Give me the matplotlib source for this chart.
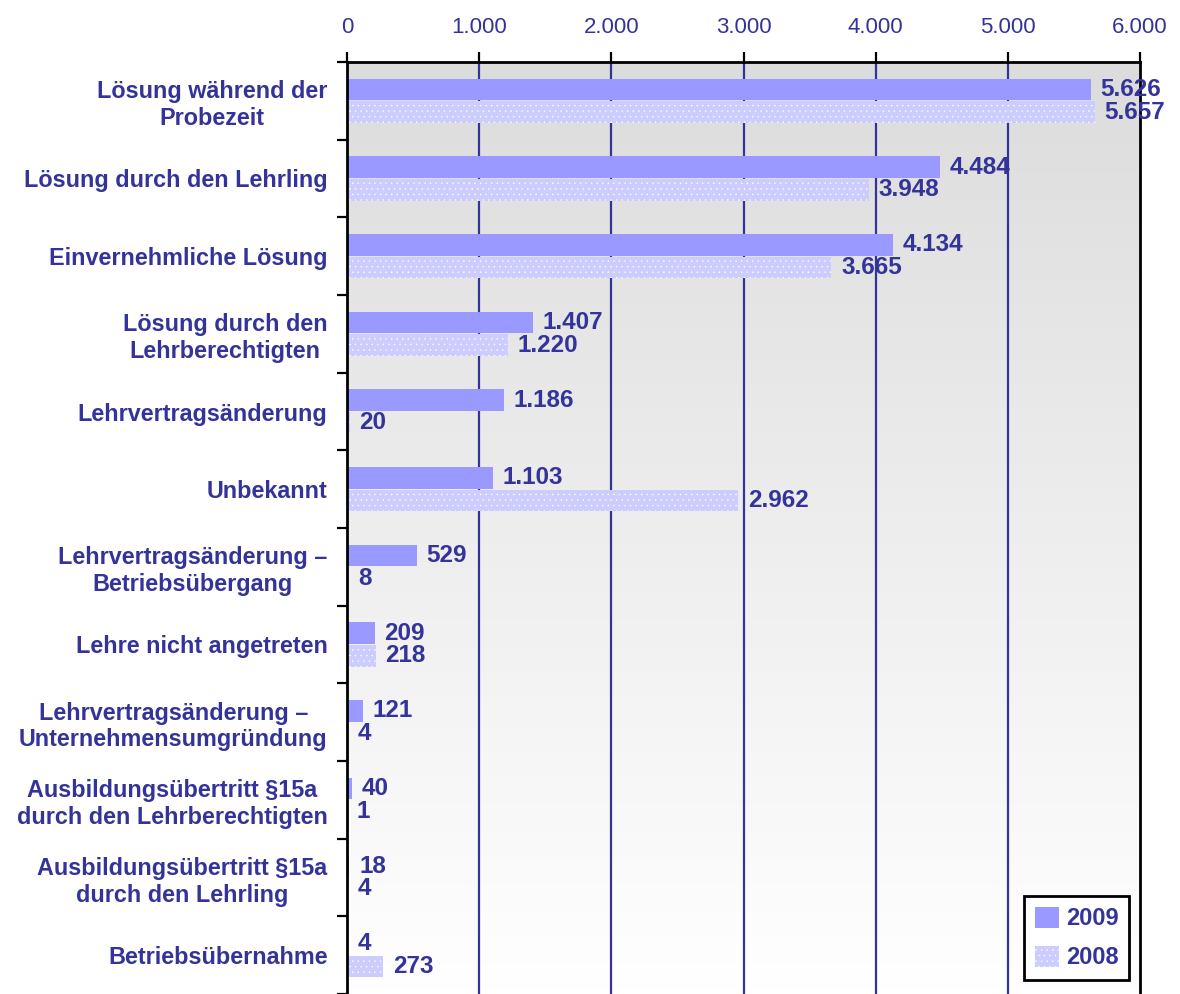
import numpy as np
import matplotlib
matplotlib.use("Agg")
import matplotlib.pyplot as plt
from matplotlib.patches import Patch

categories = [
    "Lösung während der\nProbezeit",
    "Lösung durch den Lehrling",
    "Einvernehmliche Lösung",
    "Lösung durch den\nLehrberechtigten",
    "Lehrvertragsänderung",
    "Unbekannt",
    "Lehrvertragsänderung –\nBetriebsübergang",
    "Lehre nicht angetreten",
    "Lehrvertragsänderung –\nUnternehmensumgründung",
    "Ausbildungsübertritt §15a\ndurch den Lehrberechtigten",
    "Ausbildungsübertritt §15a\ndurch den Lehrling",
    "Betriebsübernahme",
]
values_2009 = [5626, 4484, 4134, 1407, 1186, 1103, 529, 209, 121, 40, 18, 4]
values_2008 = [5657, 3948, 3665, 1220, 20, 2962, 8, 218, 4, 1, 4, 273]
series_names = ["2009", "2008"]
x_ticks = [0, 1000, 2000, 3000, 4000, 5000, 6000]

TXT = "#333399"
C09 = "#9999FF"
C08 = "#CCCCFF"
FONT = "Liberation Sans"

def de_fmt(v):
    return f"{v:,}".replace(",", ".")

plt.rcParams["hatch.linewidth"] = 0.3

fig = plt.figure(figsize=(11.8, 9.94), dpi=100)
ax = fig.add_axes([347/1180, 0.0, (1140-347)/1180, 1 - 62/994])

n = len(categories)
y = np.arange(n)
ax.set_ylim(n - 0.5, -0.5)
ax.set_xlim(0, 6000)

# gradient background
grad = np.linspace(0, 1, 256).reshape(-1, 1)
cmap = matplotlib.colors.LinearSegmentedColormap.from_list("bg", ["#DCDCDC", "#FFFFFF"])
ax.imshow(grad, cmap=cmap, aspect="auto", extent=[0, 1, 0, 1], origin="upper",
          transform=ax.transAxes, zorder=0, interpolation="bilinear")

# gridlines
for xt in x_ticks[1:-1]:
    ax.axvline(xt, color=TXT, lw=1.6, zorder=1)

h = 0.28
off = 0.145
ax.barh(y - off, values_2009, height=h, color=C09, lw=0, zorder=2, label=series_names[0])
ax.barh(y + off, values_2008, height=h, color=C08, edgecolor="white", lw=0,
        hatch="...", zorder=2, label=series_names[1])

for yi, v in zip(y, values_2009):
    ax.annotate(de_fmt(v), (v, yi - off), xytext=(7, 0), textcoords="offset points",
                ha="left", va="center", color=TXT, fontsize=17.5, fontweight="bold",
                family=FONT, zorder=5)
for yi, v in zip(y, values_2008):
    ax.annotate(de_fmt(v), (v, yi + off), xytext=(7, 0), textcoords="offset points",
                ha="left", va="center", color=TXT, fontsize=17.5, fontweight="bold",
                family=FONT, zorder=5)

# axes styling
ax.xaxis.tick_top()
ax.set_xticks(x_ticks)
ax.set_xticklabels([de_fmt(t) for t in x_ticks], color=TXT, fontsize=16, family=FONT)
ax.tick_params(axis="x", direction="out", length=7, width=1.6, color="black", pad=10)

ax.set_yticks(np.arange(-0.5, n + 0.5, 1.0))
ax.set_yticklabels([])
ax.tick_params(axis="y", which="major", direction="out", length=7, width=1.6, color="black")
ax.set_yticks(y, minor=True)
ax.set_yticklabels(categories, minor=True, color=TXT, fontsize=16.8, fontweight="bold",
                   family=FONT, multialignment="center")
ax.tick_params(axis="y", which="minor", length=0, pad=14)

for s in ["top", "left", "right"]:
    ax.spines[s].set_linewidth(2)
    ax.spines[s].set_color("black")
ax.spines["bottom"].set_visible(False)

handles = [Patch(facecolor=C09, lw=0), Patch(facecolor=C08, edgecolor="white", lw=0, hatch="...")]
leg = ax.legend(handles, series_names, loc="lower right", bbox_to_anchor=(1.004, 0.0),
                frameon=True, fancybox=False, framealpha=1, edgecolor="black",
                handlelength=1.0, handleheight=1.0, handletextpad=0.3, borderpad=0.45,
                labelspacing=0.65, borderaxespad=0.6,
                prop={"family": FONT, "weight": "bold", "size": 17})
leg.get_frame().set_linewidth(2)
for t in leg.get_texts():
    t.set_color(TXT)
leg.set_zorder(10)

fig.savefig("out.png", dpi=100)
